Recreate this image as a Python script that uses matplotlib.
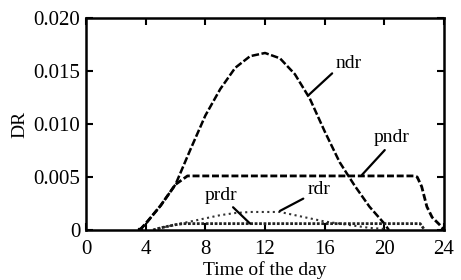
import matplotlib.pyplot as plt

plt.rcParams.update({'font.family': 'Liberation Serif', 'font.size': 14})

# hours of the day and the four rates
ndr_t = [3.6, 4, 5, 6, 7, 8, 9, 10, 11, 12, 13, 14, 15, 16, 17, 18, 19, 20, 20.3]
ndr = [0, 0.0006, 0.0023, 0.0043, 0.0076, 0.0108, 0.0133, 0.0153, 0.0164, 0.0167,
       0.0162, 0.0147, 0.0124, 0.0093, 0.0064, 0.0042, 0.0022, 0.0006, 0]

pndr_t = [3.6, 4, 5, 6, 6.8, 10, 14, 18, 22, 22.2, 22.5, 22.85, 23.2, 23.7, 24]
pndr = [0, 0.0006, 0.0023, 0.0043, 0.0051, 0.0051, 0.0051, 0.0051, 0.0051,
        0.0050, 0.0041, 0.0022, 0.0012, 0.0005, 0]

rdr_t = [4.5, 5, 6, 7, 8, 9, 10, 11, 12, 13, 14, 15, 16, 17, 18, 19, 20, 20.3]
rdr = [0, 0.0002, 0.0005, 0.0008, 0.0011, 0.0014, 0.0016, 0.0017, 0.0017, 0.0017,
       0.0014, 0.0011, 0.0008, 0.0006, 0.0004, 0.0002, 0.0001, 0]

prdr_t = [4.5, 5, 6, 6.5, 10, 14, 18, 22.4, 22.7]
prdr = [0, 0.0002, 0.0005, 0.0006, 0.0006, 0.0006, 0.0006, 0.0006, 0]

x_ticks = [0, 4, 8, 12, 16, 20, 24]
y_ticks = [0, 0.005, 0.010, 0.015, 0.020]
y_tick_labels = ['0', '0.005', '0.010', '0.015', '0.020']

# label text, text position, point on the curve, where the pointer leaves the text
labels = [
    ('ndr', (17.63, 0.01575), (14.9, 0.0127), (0.0, 0.1)),
    ('pndr', (20.5, 0.0087), (18.5, 0.0052), (0.4, 0.0)),
    ('rdr', (15.6, 0.0038), (13.0, 0.0018), (0.0, 0.1)),
    ('prdr', (9.05, 0.0033), (11.0, 0.0006), (0.75, 0.0)),
]


def make_plot():
    fig = plt.figure(figsize=(4.61, 2.80), dpi=100)
    ax = fig.add_axes([0.1866, 0.1786, 0.7766, 0.7571])

    ax.plot(ndr_t, ndr, color='black', lw=1.8, dashes=(3, 1))
    ax.plot(pndr_t, pndr, color='black', lw=2.0, dashes=(2.5, 1))
    ax.plot(rdr_t, rdr, color='#333333', lw=1.5, linestyle=':')
    ax.plot(prdr_t, prdr, color='#222222', lw=2.0, dashes=(1, 0.6))
    ax.plot([ndr_t[0], pndr_t[-1]], [ndr[0], pndr[-1]], 's', color='black', ms=3)

    for text, pos, pt, rel in labels:
        ax.annotate(text, xy=pt, xytext=pos, ha='center', va='center',
                    arrowprops=dict(arrowstyle='-', lw=1.6, color='black',
                                    relpos=rel, shrinkA=1, shrinkB=0))

    ax.set_xlim(0, 24)
    ax.set_ylim(0, 0.020)
    ax.set_xticks(x_ticks)
    ax.set_yticks(y_ticks)
    ax.set_yticklabels(y_tick_labels)
    ax.tick_params(direction='in', length=5, width=1.5, top=True, right=True,
                   labelsize=15)
    ax.tick_params(axis='x', pad=7)
    ax.tick_params(axis='y', pad=4)
    for s in ax.spines.values():
        s.set_linewidth(1.8)

    ax.set_xlabel('Time of the day', labelpad=2)
    ax.set_ylabel('DR', labelpad=4)

    fig.savefig('out.png', dpi=100)


if __name__ == "__main__":
    make_plot()
